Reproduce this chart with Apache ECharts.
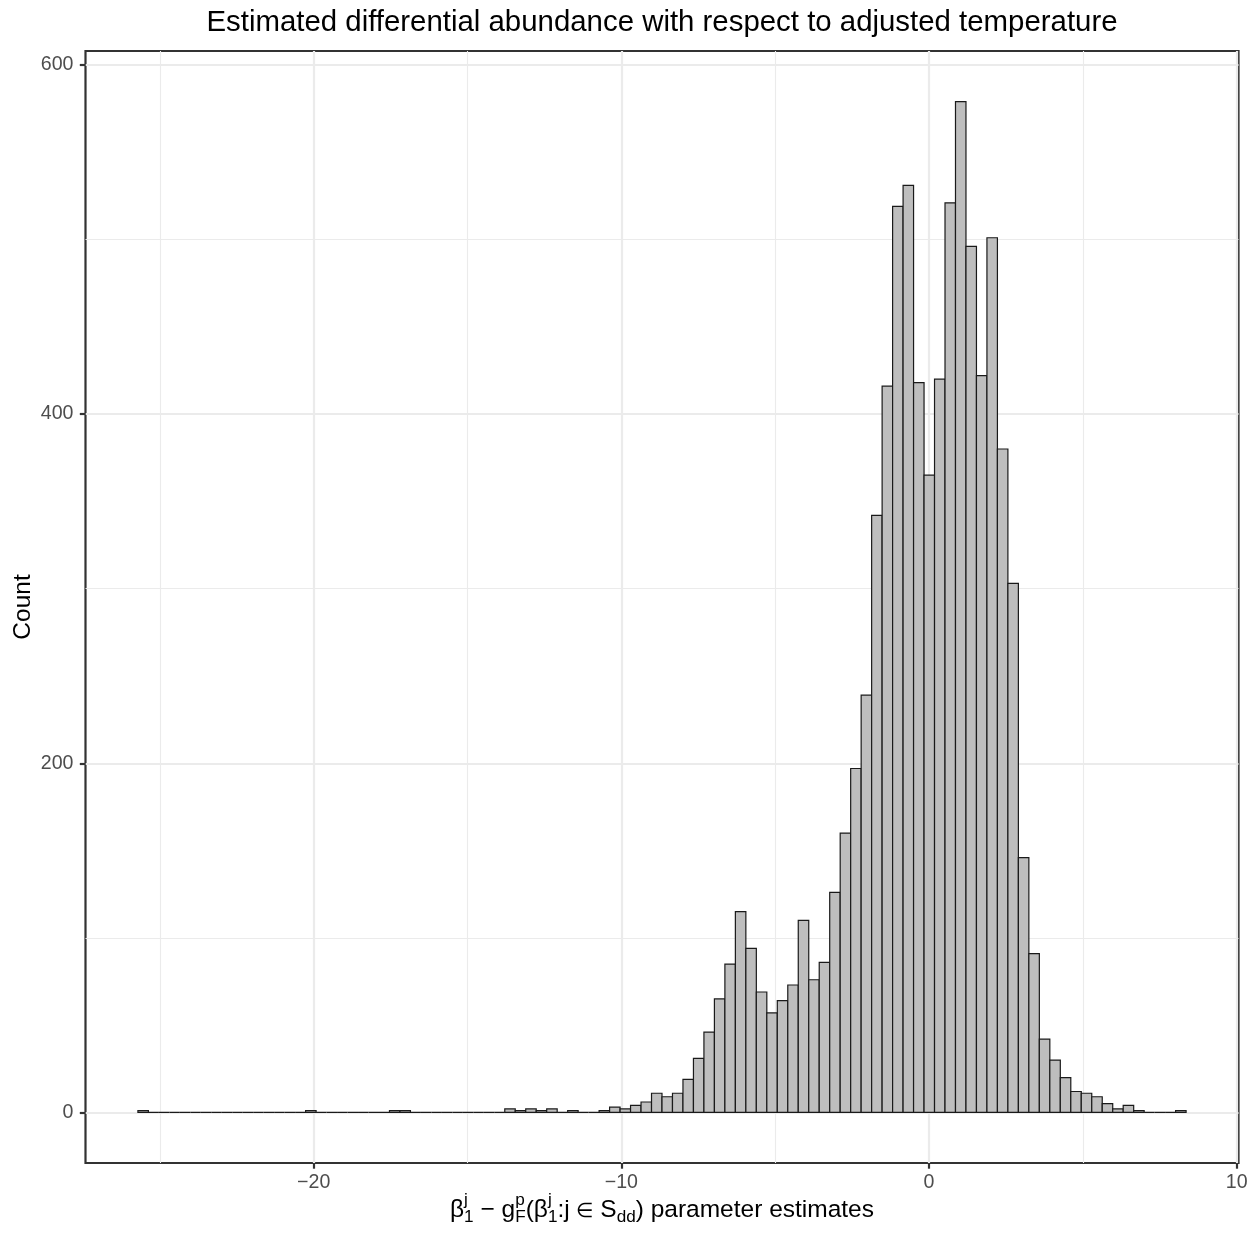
<!DOCTYPE html>
<html>
<head>
<meta charset="utf-8">
<title>Differential abundance histogram</title>
<script src="https://cdn.jsdelivr.net/npm/echarts@6/dist/echarts.min.js"></script>
<style>
  html, body { margin: 0; padding: 0; background: #fff; }
  #histChart { width: 1260px; height: 1235px; }
</style>
</head>
<body>
<div id="histChart"></div>
<script>
// 100 bins, centres running from binMin to binMax (like ggplot bins = 100)
const binMin = -25.545;
const binMax = 8.185;
const counts = [
  1, 0, 0, 0, 0, 0, 0, 0, 0, 0,
  0, 0, 0, 0, 0, 0, 1, 0, 0, 0,
  0, 0, 0, 0, 1, 1, 0, 0, 0, 0,
  0, 0, 0, 0, 0, 2, 1, 2, 1, 2,
  0, 1, 0, 0, 1, 3, 2, 4, 6, 11,
  9, 11, 19, 31, 46, 65, 85, 115, 94, 69,
  57, 64, 73, 110, 76, 86, 126, 160, 197, 239,
  342, 416, 519, 531, 418, 365, 420, 521, 579, 496,
  422, 501, 380, 303, 146, 91, 42, 30, 20, 12,
  11, 9, 5, 2, 4, 1, 0, 0, 0, 1
];
const xTicks = [-20, -10, 0, 10];
const yTicks = [0, 200, 400, 600];

const titleText = 'Estimated differential abundance with respect to adjusted temperature';
const yTitle = 'Count';
// plotmath style x title: base text, stacked super/subscripts
const xTitleParts = [
  { base: 'β' }, { sup: 'j', sub: '1' },
  { base: ' − g' }, { sup: 'p', sub: 'F' },
  { base: '(β' }, { sup: 'j', sub: '1' },
  { base: ':j ' }, { sym: '∈' }, { base: ' S' }, { sub: 'dd' },
  { base: ') parameter estimates' }
];

const FONT = '"Liberation Sans", Arial, sans-serif';
const GRID = { left: 85.5, right: 21.5, top: 51, bottom: 72 };
const BASE = 24.5;

const binWidth = (binMax - binMin) / (counts.length - 1);
const bins = counts.map((c, i) => {
  const mid = binMin + i * binWidth;
  return [mid - binWidth / 2, mid + binWidth / 2, c];
});

// ggplot default 5% expansion
const xLo = binMin - binWidth / 2, xHi = binMax + binWidth / 2;
const xPad = (xHi - xLo) * 0.05;
const yTop = Math.max.apply(null, counts);
const yPad = yTop * 0.05;

const measureCtx = document.createElement('canvas').getContext('2d');
function textWidth(str, size) {
  measureCtx.font = size + 'px ' + FONT;
  return measureCtx.measureText(str).width;
}

function mathLabel(parts, cx, baseline, size) {
  const small = size * 0.7;
  const sym = size * 0.8;
  const els = [];
  const widths = parts.map(p => {
    if (p.base != null) return textWidth(p.base, size);
    if (p.sym != null) return textWidth(p.sym, sym);
    return Math.max(p.sup ? textWidth(p.sup, small) : 0, p.sub ? textWidth(p.sub, small) : 0);
  });
  const total = widths.reduce((a, b) => a + b, 0);
  let x = cx - total / 2;
  const put = (t, fs, yb) => els.push({
    type: 'text', x: x, y: yb - 0.34 * fs, silent: true,
    style: { text: t, fontSize: fs, fontFamily: FONT, fill: '#000', align: 'left', verticalAlign: 'middle' }
  });
  parts.forEach((p, i) => {
    if (p.base != null) put(p.base, size, baseline);
    if (p.sym != null) put(p.sym, sym, baseline - 1);
    if (p.sup) put(p.sup, small, baseline - 13);
    if (p.sub) put(p.sub, small, baseline + 4);
    x += widths[i];
  });
  return els;
}

const chart = echarts.init(document.getElementById('histChart'));
const panelCx = GRID.left + (1260 - GRID.left - GRID.right) / 2;

const option = {
  backgroundColor: '#fff',
  animation: false,
  grid: {
    left: GRID.left, right: GRID.right, top: GRID.top, bottom: GRID.bottom,
    outerBoundsMode: 'none',
    show: true, borderColor: '#333333', borderWidth: 2.2, backgroundColor: 'transparent'
  },
  graphic: [
    {
      type: 'text', x: panelCx, y: 23, silent: true,
      style: { text: titleText, fontSize: BASE * 1.2, fontFamily: FONT, fill: '#000', align: 'center', verticalAlign: 'middle' }
    }
  ].concat(mathLabel(xTitleParts, panelCx, 1219, BASE)),
  xAxis: {
    type: 'value',
    min: xLo - xPad,
    max: xHi + xPad,
    minInterval: 10,
    maxInterval: 10,
    axisLine: { show: false, onZero: false },
    axisTick: { show: true, customValues: xTicks, length: 5.7, lineStyle: { color: '#333333', width: 2.2 } },
    axisLabel: {
      customValues: xTicks,
      margin: 10, fontSize: BASE * 0.8, fontFamily: FONT, color: '#4D4D4D',
      formatter: v => (v < 0 ? '−' + Math.abs(v) : String(v))
    },
    splitLine: { show: true, lineStyle: { color: '#EBEBEB', width: 2.2 } },
    minorTick: { show: false, splitNumber: 2 },
    minorSplitLine: { show: true, lineStyle: { color: '#EBEBEB', width: 1.1 } }
  },
  yAxis: {
    type: 'value',
    min: -yPad,
    max: yTop + yPad,
    minInterval: 200,
    maxInterval: 200,
    name: yTitle,
    nameLocation: 'middle',
    nameRotate: 90,
    nameGap: 50,
    nameMoveOverlap: false,
    nameTextStyle: { fontSize: BASE, fontFamily: FONT, color: '#000' },
    axisLine: { show: false, onZero: false },
    axisTick: { show: true, customValues: yTicks, length: 5.7, lineStyle: { color: '#333333', width: 2.2 } },
    axisLabel: {
      customValues: yTicks,
      margin: 12, fontSize: BASE * 0.8, fontFamily: FONT, color: '#4D4D4D'
    },
    splitLine: { show: true, lineStyle: { color: '#EBEBEB', width: 2.2 } },
    minorTick: { show: false, splitNumber: 2 },
    minorSplitLine: { show: true, lineStyle: { color: '#EBEBEB', width: 1.1 } }
  },
  series: [
    {
      type: 'custom',
      data: bins,
      encode: { x: [0, 1], y: 2 },
      renderItem: (params, api) => {
        const topLeft = api.coord([api.value(0), api.value(2)]);
        const botRight = api.coord([api.value(1), 0]);
        return {
          type: 'rect',
          shape: { x: topLeft[0], y: topLeft[1], width: botRight[0] - topLeft[0], height: botRight[1] - topLeft[1] },
          style: { fill: '#BEBEBE', stroke: '#1A1A1A', lineWidth: 1.2 }
        };
      }
    }
  ]
};

chart.setOption(option);
</script>
</body>
</html>
